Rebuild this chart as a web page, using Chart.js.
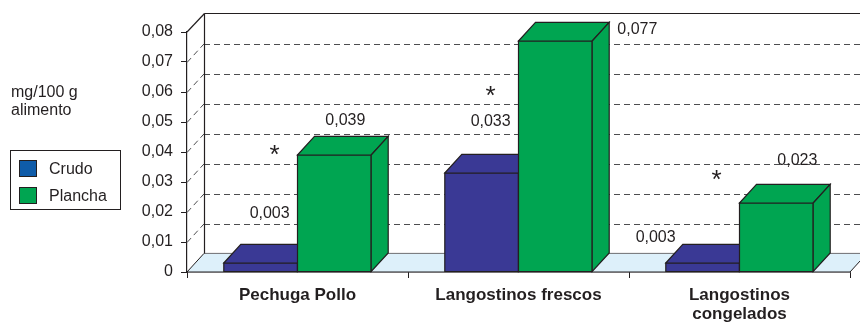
<!DOCTYPE html>
<html lang="es">
<head>
<meta charset="utf-8">
<script src="https://cdn.jsdelivr.net/npm/chart.js@4/dist/chart.umd.min.js"></script>
<style>
  html, body { margin: 0; padding: 0; background: #fff; }
  #wrap { position: relative; width: 860px; height: 322px; font-family: 'Liberation Sans', Arial, Helvetica, sans-serif; color: #231f20; }
  #chart { position: absolute; left: 0; top: 0; }
  .txt { position: absolute; font-size: 16px; line-height: 18px; white-space: nowrap; }
  #legend { position: absolute; left: 10px; top: 150px; width: 111px; height: 60px; box-sizing: border-box; border: 1px solid #231f20; background: #fff; }
  .sw { position: absolute; width: 18px; height: 17px; box-sizing: border-box; border: 1px solid #231f20; }
</style>
</head>
<body>
<div id="wrap">
  <canvas id="chart" width="860" height="322"></canvas>
  <div class="txt" style="left:11px; top:83px;">mg/100 g<br>alimento</div>
  <div id="legend"></div>
</div>
<script>
const categories = ['Pechuga Pollo', 'Langostinos frescos', 'Langostinos congelados'];
const seriesNames = ['Crudo', 'Plancha'];
const crudo = [0.003, 0.033, 0.003];
const plancha = [0.039, 0.077, 0.023];
const yMax = 0.08;
const yStep = 0.01;
// categories marked with an asterisk (significant difference)
const significant = [true, true, true];

const barColors = ['#3a3995', '#00a551'];
const swatchColors = ['#0f5ca9', '#00a551'];
const INK = '#231f20';
const FONT = "'Liberation Sans', Arial, Helvetica, sans-serif";

// depth of the box (back wall / bar tops), px
const DX = 17, DY = -18.6;

// value label baseline, px from the top-centre of each bar's front face
const labelShift = [
  [[9, -45], [11, -30]],
  [[9, -47], [82, -7]],
  [[-47, -21], [21, -38]]
];
// asterisk centre, px from the top-left corner of the Plancha bar
const starShift = [[-23, -4], [-28, 51], [-23, -27]];

const fmt = v => v === 0 ? '0' : v.toFixed(2).replace('.', ',');
const fmtVal = v => v.toFixed(3).replace('.', ',');

function poly(ctx, pts) {
  ctx.beginPath();
  ctx.moveTo(pts[0][0], pts[0][1]);
  for (let k = 1; k < pts.length; k++) ctx.lineTo(pts[k][0], pts[k][1]);
  ctx.closePath();
}

function line(ctx, x1, y1, x2, y2) {
  ctx.beginPath();
  ctx.moveTo(x1, y1);
  ctx.lineTo(x2, y2);
  ctx.stroke();
}

function drawBox(ctx, x0, x1, yTop, yBase, color) {
  ctx.fillStyle = color;
  ctx.strokeStyle = INK;
  ctx.lineWidth = 1.2;
  const faces = [
    [[x0, yBase], [x1, yBase], [x1, yTop], [x0, yTop]],
    [[x0, yTop], [x1, yTop], [x1 + DX, yTop + DY], [x0 + DX, yTop + DY]],
    [[x1, yTop], [x1 + DX, yTop + DY], [x1 + DX, yBase + DY], [x1, yBase]]
  ];
  faces.forEach(f => { poly(ctx, f); ctx.fill(); ctx.stroke(); });
}

const depthPlugin = {
  id: 'depth',
  beforeDatasetsDraw(chart) {
    const { ctx, chartArea: a, scales: { x, y } } = chart;
    const base = y.getPixelForValue(0);
    const top = y.getPixelForValue(yMax);
    ctx.save();

    // floor
    poly(ctx, [[a.left, base], [a.right, base], [a.right + DX, base + DY], [a.left + DX, base + DY]]);
    ctx.fillStyle = '#ddf0fa';
    ctx.fill();
    ctx.strokeStyle = '#6d6e71';
    ctx.lineWidth = 1;
    line(ctx, a.left + DX, base + DY, a.right + DX, base + DY);
    ctx.strokeStyle = INK;
    line(ctx, a.left, base, a.left + DX, base + DY);
    line(ctx, a.right, base, a.right + DX, base + DY);

    // dashed gridlines on side and back walls
    ctx.setLineDash([6, 4]);
    ctx.strokeStyle = '#4d4d4f';
    y.ticks.forEach(t => {
      if (t.value <= 0 || t.value >= yMax - 1e-9) return;
      const py = Math.round(y.getPixelForValue(t.value)) + 0.5;
      line(ctx, a.left, py, a.left + DX, py + DY);
      line(ctx, a.left + DX, Math.round(py + DY) + 0.5, a.right + DX + 10, Math.round(py + DY) + 0.5);
    });
    ctx.setLineDash([]);

    // wall edges
    ctx.strokeStyle = INK;
    ctx.lineWidth = 1.2;
    const bx = Math.round(a.left + DX) + 0.5;
    const by = Math.round(top + DY) + 0.5;
    line(ctx, bx, base + DY, bx, by);
    line(ctx, a.left, top, bx, by);
    line(ctx, bx, by, a.right + DX + 10, by);
    line(ctx, a.left, base, a.right, base);

    // bars, back-left to front-right
    categories.forEach((c, i) => {
      chart.data.datasets.forEach((ds, d) => {
        const el = chart.getDatasetMeta(d).data[i];
        const p = el.getProps(['x', 'y', 'base', 'width'], true);
        drawBox(ctx, p.x - p.width / 2, p.x + p.width / 2, p.y, p.base, ds.backgroundColor);
      });
    });

    // value labels
    ctx.fillStyle = INK;
    ctx.font = `16px ${FONT}`;
    ctx.textAlign = 'center';
    ctx.textBaseline = 'alphabetic';
    categories.forEach((c, i) => {
      chart.data.datasets.forEach((ds, d) => {
        const p = chart.getDatasetMeta(d).data[i].getProps(['x', 'y'], true);
        const [sx, sy] = labelShift[i][d];
        ctx.fillText(fmtVal(ds.data[i]), p.x + sx, p.y + sy);
      });
    });

    // asterisks
    ctx.font = `26px ${FONT}`;
    ctx.textBaseline = 'middle';
    categories.forEach((c, i) => {
      if (!significant[i]) return;
      const p = chart.getDatasetMeta(1).data[i].getProps(['x', 'y', 'width'], true);
      const [sx, sy] = starShift[i];
      ctx.fillText('*', p.x - p.width / 2 + sx, p.y + sy + 5);
    });

    ctx.restore();
    return false;
  }
};

new Chart(document.getElementById('chart'), {
  type: 'bar',
  data: {
    labels: categories.map(c => c.length > 20 ? c.split(' ') : c),
    datasets: seriesNames.map((name, d) => ({
      label: name,
      data: d === 0 ? crudo : plancha,
      backgroundColor: barColors[d],
      categoryPercentage: 0.667,
      barPercentage: 1
    }))
  },
  options: {
    responsive: false,
    animation: false,
    devicePixelRatio: 1,
    layout: { padding: { top: 32, right: 10, left: 0, bottom: 0 } },
    plugins: { legend: { display: false }, tooltip: { enabled: false } },
    scales: {
      x: {
        grid: { drawOnChartArea: false, tickLength: 6, color: INK, offset: true },
        border: { color: INK, width: 1.2 },
        ticks: { color: INK, padding: 8, maxRotation: 0, font: { family: FONT, size: 17, weight: 'bold', lineHeight: 1.1 } },
        afterFit: s => { s.height = 50; }
      },
      y: {
        min: 0,
        max: yMax,
        grid: { drawOnChartArea: false, tickLength: 6, color: INK },
        border: { color: INK, width: 1.2 },
        ticks: { stepSize: yStep, color: INK, padding: 8, callback: v => fmt(v), font: { family: FONT, size: 16 } },
        afterFit: s => { s.width = 187; }
      }
    }
  },
  plugins: [depthPlugin]
});

// legend
const legend = document.getElementById('legend');
seriesNames.forEach((name, d) => {
  const sw = document.createElement('div');
  sw.className = 'sw';
  sw.style.left = '8px';
  sw.style.top = (9 + d * 27) + 'px';
  sw.style.background = swatchColors[d];
  legend.appendChild(sw);
  const t = document.createElement('div');
  t.className = 'txt';
  t.style.left = '38px';
  t.style.top = (9 + d * 27) + 'px';
  t.textContent = name;
  legend.appendChild(t);
});
</script>
</body>
</html>
